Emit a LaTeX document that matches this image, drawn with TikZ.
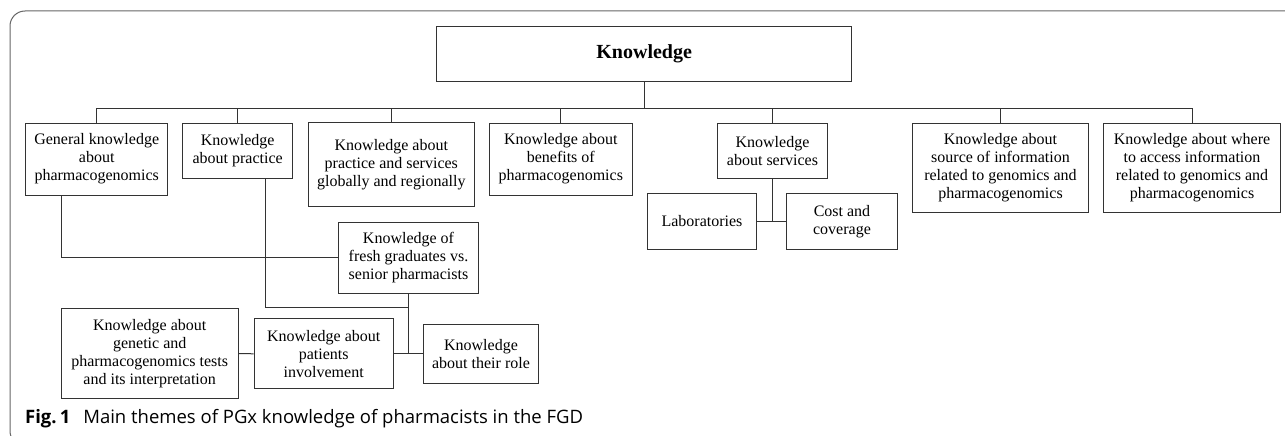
\documentclass[tikz,border=0pt]{standalone}
\usepackage{fontspec}
\setmainfont{Liberation Serif}
\newfontfamily\capfont{Open Sans}
\definecolor{linegray}{HTML}{333333}
\definecolor{framegray}{HTML}{666666}
\begin{document}
\begin{tikzpicture}[x=1pt,y=-1pt,
  box/.style={draw=linegray, line width=1pt, align=center, inner sep=0pt,
    font=\fontsize{16}{18}\selectfont, text=black},
  conn/.style={draw=linegray, line width=1pt}]
\useasboundingbox (0,0) rectangle (1285,436);
\begin{scope}
\clip (0,0) rectangle (1285,436);
\draw[framegray, line width=1pt, rounded corners=15pt] (1300,11) -| (10,446) -- (1300,446);
\end{scope}

\node[box, minimum width=415pt, minimum height=55pt, font=\fontsize{20}{22}\selectfont\bfseries] (K) at (644.2,54.2) {Knowledge};

\node[box, minimum width=142pt, minimum height=72pt] (b1) at (96.7,159) {General knowledge\\about\\pharmacogenomics};
\node[box, minimum width=110pt, minimum height=55.3pt] (b2) at (237.7,150.7) {Knowledge\\about practice};
\node[box, minimum width=166pt, minimum height=83.7pt] (b3) at (391.3,164.8) {Knowledge about\\practice and services\\globally and regionally};
\node[box, minimum width=143pt, minimum height=72pt] (b4) at (560.8,159) {Knowledge about\\benefits of\\pharmacogenomics};
\node[box, minimum width=109.6pt, minimum height=55.3pt] (b5) at (772.5,150.7) {Knowledge\\about services};
\node[box, minimum width=109.4pt, minimum height=55.7pt] (lab) at (702,221.2) {Laboratories};
\node[box, minimum width=110.6pt, minimum height=55.7pt] (cost) at (842,221.2) {Cost and\\coverage};
\node[box, minimum width=175.6pt, minimum height=89.3pt] (b6) at (1000.5,167.7) {Knowledge about\\source of information\\related to genomics and\\pharmacogenomics};
\node[box, minimum width=177.4pt, minimum height=89.3pt] (b7) at (1192,167.7) {Knowledge about where\\to access information\\related to genomics and\\pharmacogenomics};

\node[box, minimum width=140.4pt, minimum height=71.3pt] (fresh) at (408.5,257.7) {Knowledge of\\fresh graduates vs.\\senior pharmacists};
\node[box, minimum width=177.3pt, minimum height=89.6pt] (gen) at (149.7,353.5) {Knowledge about\\genetic and\\pharmacogenomics tests\\and its interpretation};
\node[box, minimum width=139.3pt, minimum height=70.3pt] (pat) at (323.7,353.8) {Knowledge about\\patients\\involvement};
\node[box, minimum width=115.4pt, minimum height=59pt] (role) at (481,353.8) {Knowledge\\about their role};

\coordinate (busY) at (0,108);
\coordinate (j1) at (408.5,307.7);

% top bus
\draw[conn] (K.south) -- (K.south |- busY);
\draw[conn] (b1.north) -- (b1.north |- busY) -- (b7.north |- busY) -- (b7.north);
\foreach \n in {b2,b3,b4,b5,b6} \draw[conn] (\n.north) -- (\n.north |- busY);

% services
\draw[conn] (b5.south) -- (b5.south |- lab.east);
\draw[conn] (lab.east) -- (cost.west);

% left group
\draw[conn] ([xshift=-35.7pt]b1.south) |- (fresh.west);
\draw[conn] ([xshift=28pt]b2.south) |- (j1);
\draw[conn] (fresh.south) -- (fresh.south |- pat.east);
\draw[conn] (gen.east) -- (pat.west);
\draw[conn] (pat.east) -- (role.west);

\node[anchor=base west, inner sep=0pt, font=\capfont\fontsize{18.5}{20}\selectfont, text=black] (cap) at (25,423) {\textbf{Fig.\,1}\hspace{0.7em}Main themes of PGx knowledge of pharmacists in the FGD};
\end{tikzpicture}
\end{document}
